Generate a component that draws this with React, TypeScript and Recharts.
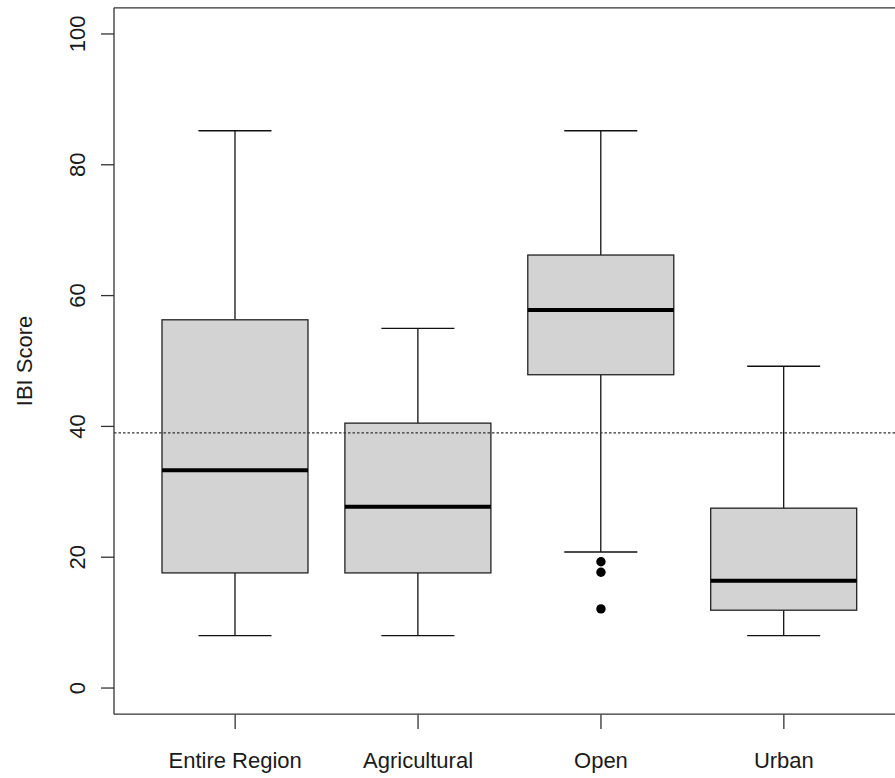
import React from 'react';
import { ComposedChart, Bar, Scatter, XAxis, YAxis, ReferenceLine } from 'recharts';

const categories = ['Entire Region', 'Agricultural', 'Open', 'Urban'];
const whiskerLow = [8, 8, 20.8, 8];
const q1 = [17.6, 17.6, 47.9, 11.9];
const median = [33.3, 27.7, 57.8, 16.4];
const q3 = [56.3, 40.5, 66.2, 27.5];
const whiskerHigh = [85.2, 55.0, 85.2, 49.2];
const outlierCategory = ['Open', 'Open', 'Open'];
const outlierValues = [19.3, 17.7, 12.1];
const yTicks = [0, 20, 40, 60, 80, 100];
const yDomain = [-4, 104];
const overallLine = 39.0;

const data = categories.map((name, i) => ({
  name,
  range: [whiskerLow[i], whiskerHigh[i]],
  lo: whiskerLow[i],
  q1: q1[i],
  med: median[i],
  q3: q3[i],
  hi: whiskerHigh[i],
}));

const outliers = outlierValues.map((v, i) => ({ name: outlierCategory[i], value: v }));

const FONT = '"Liberation Sans", Arial, sans-serif';
const FRAME = { stroke: '#333', strokeWidth: 1.3 };

const BoxShape = (props: any) => {
  const { x, y, width, height, payload } = props;
  const top = Math.min(y, y + height);
  const bottom = Math.max(y, y + height);
  const { lo, hi } = payload;
  const pix = (v: number) => top + ((bottom - top) * (hi - v)) / (hi - lo);
  const cx = x + width / 2;
  const capHalf = width / 4;
  const yQ3 = pix(payload.q3);
  const yQ1 = pix(payload.q1);
  const yMed = pix(payload.med);
  return (
    <g>
      <line x1={cx} x2={cx} y1={top} y2={yQ3} stroke="#111" strokeWidth={1.3} />
      <line x1={cx} x2={cx} y1={yQ1} y2={bottom} stroke="#111" strokeWidth={1.3} />
      <line x1={cx - capHalf} x2={cx + capHalf} y1={top} y2={top} stroke="#111" strokeWidth={1.3} />
      <line x1={cx - capHalf} x2={cx + capHalf} y1={bottom} y2={bottom} stroke="#111" strokeWidth={1.3} />
      <rect x={x} y={yQ3} width={width} height={yQ1 - yQ3} fill="#D3D3D3" stroke="#222" strokeWidth={1.3} />
      <line x1={x} x2={x + width} y1={yMed} y2={yMed} stroke="#000" strokeWidth={4} />
    </g>
  );
};

const YTick = (props: any) => {
  const { y, payload } = props;
  const bx = 85;
  return (
    <g>
      <line x1={101} x2={114} y1={y} y2={y} stroke="#333" strokeWidth={1.3} />
      <text
        x={bx}
        y={y}
        textAnchor="middle"
        transform={`rotate(-90, ${bx}, ${y})`}
        fontFamily={FONT}
        fontSize={22}
        fill="#1a1a1a"
      >
        {payload.value}
      </text>
    </g>
  );
};

const XTick = (props: any) => {
  const { x, payload } = props;
  return (
    <g>
      <line x1={x} x2={x} y1={714.5} y2={729} stroke="#333" strokeWidth={1.3} />
      <text x={x} y={768} textAnchor="middle" fontFamily={FONT} fontSize={22} fill="#1a1a1a">
        {payload.value}
      </text>
    </g>
  );
};

const YLabel = (props: any) => {
  const vb = props.viewBox || { x: 0, y: 0, width: 114, height: 706 };
  const cy = vb.y + vb.height / 2;
  const bx = 32;
  return (
    <text
      x={bx}
      y={cy}
      textAnchor="middle"
      transform={`rotate(-90, ${bx}, ${cy})`}
      fontFamily={FONT}
      fontSize={22}
      fill="#1a1a1a"
    >
      IBI Score
    </text>
  );
};

const OutlierDot = (props: any) => <circle cx={props.cx} cy={props.cy} r={4.7} fill="#000" />;

export default function App() {
  return (
    <div style={{ position: 'absolute', left: 0, top: 0, width: 895, height: 778, overflow: 'hidden', background: '#fff' }}>
      <ComposedChart
        width={905}
        height={778}
        data={data}
        margin={{ top: 7.8, right: 0, bottom: 0, left: 0 }}
        barCategoryGap="10%"
      >
        <XAxis
          dataKey="name"
          type="category"
          allowDuplicatedCategory={false}
          height={63.8}
          padding={{ left: 29.7, right: 29.7 }}
          axisLine={FRAME}
          tickLine={false}
          tick={<XTick />}
          interval={0}
        />
        <YAxis
          type="number"
          domain={yDomain}
          ticks={yTicks}
          width={114}
          axisLine={FRAME}
          tickLine={false}
          tick={<YTick />}
          label={{ content: <YLabel /> }}
          allowDataOverflow
        />
        <ReferenceLine y={yDomain[1]} stroke="#333" strokeWidth={1.3} ifOverflow="visible" />
        <ReferenceLine y={overallLine} stroke="#333" strokeWidth={1.2} strokeDasharray="2.5 2" />
        <Bar dataKey="range" shape={<BoxShape />} isAnimationActive={false} />
        <Scatter data={outliers} dataKey="value" shape={<OutlierDot />} isAnimationActive={false} />
      </ComposedChart>
    </div>
  );
}
